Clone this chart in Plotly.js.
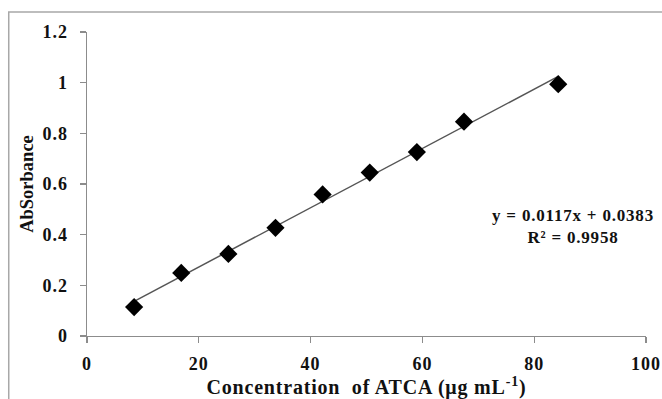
<!DOCTYPE html>
<html>
<head>
<meta charset="utf-8">
<script src="https://cdn.plot.ly/plotly-3.0.1.min.js"></script>
<style>
html,body{margin:0;padding:0;background:#fff;}
#chart{width:662px;height:399px;}
#chart .xtick text, #chart .ytick text{letter-spacing:1px;}
#chart .xtitle{letter-spacing:0.8px;}
#chart .annotation-text{letter-spacing:0.8px;}
</style>
</head>
<body>
<div id="chart"></div>
<script>
const concentration = [8.43, 16.86, 25.29, 33.72, 42.15, 50.58, 59.01, 67.44, 84.3];
const absorbance = [0.114, 0.249, 0.324, 0.427, 0.559, 0.645, 0.726, 0.846, 0.994];
const slope = 0.0117;
const intercept = 0.0383;
const equationText = "y = 0.0117x + 0.0383<br>R² = 0.9958";
const xTicks = [0, 20, 40, 60, 80, 100];
const yTicks = [0, 0.2, 0.4, 0.6, 0.8, 1, 1.2];

const fitX = [concentration[0], concentration[concentration.length - 1]];
const fitY = fitX.map(v => slope * v + intercept);

const font = "Liberation Serif, Times New Roman, serif";

const traces = [
  {
    x: fitX, y: fitY, type: "scatter", mode: "lines",
    line: {color: "#555555", width: 1.5}, hoverinfo: "skip", showlegend: false
  },
  {
    x: concentration, y: absorbance, type: "scatter", mode: "markers",
    marker: {symbol: "diamond", size: 14, color: "#000000"}, showlegend: false
  }
];

const layout = {
  width: 662, height: 399,
  margin: {l: 87, r: 16, t: 32, b: 63},
  paper_bgcolor: "#ffffff", plot_bgcolor: "#ffffff",
  font: {family: font, color: "#111111"},
  showlegend: false,
  xaxis: {
    range: [0, 100], tickvals: xTicks, ticktext: xTicks.map(v => "<b>" + v + "</b>"),
    showgrid: false, zeroline: false, showline: true, linecolor: "#8c8c8c", linewidth: 1.3,
    ticks: "outside", ticklen: 6, tickcolor: "#8c8c8c", tickwidth: 1.3,
    ticklabelstandoff: 5,
    tickfont: {family: font, size: 18, color: "#111111"},
    title: {text: "<b>Concentration  of ATCA (μg mL<sup>-1</sup>)</b>", font: {family: font, size: 20, color: "#111111"}, standoff: 2}
  },
  yaxis: {
    range: [0, 1.2], tickvals: yTicks, ticktext: yTicks.map(v => "<b>" + v + "</b>"),
    showgrid: false, zeroline: false, showline: true, linecolor: "#8c8c8c", linewidth: 1.3,
    ticks: "outside", ticklen: 6, tickcolor: "#8c8c8c", tickwidth: 1.3,
    ticklabelstandoff: 8,
    tickfont: {family: font, size: 18, color: "#111111"},
    title: {text: "<b>AbSorbance</b>", font: {family: font, size: 18.5, color: "#111111"}, standoff: 7}
  },
  annotations: [
    {
      xref: "paper", yref: "paper", x: 0.869, y: 0.36, xanchor: "center", yanchor: "middle",
      text: "<b>" + equationText + "</b>", showarrow: false, align: "center",
      font: {family: font, size: 17, color: "#111111"}
    }
  ],
  shapes: [
    {
      type: "rect", xref: "paper", yref: "paper",
      x0: -0.14, x1: 1.1, y0: -0.4, y1: 1.066,
      line: {color: "#a8a8a8", width: 1.5}, fillcolor: "rgba(0,0,0,0)", layer: "below"
    }
  ]
};

Plotly.newPlot("chart", traces, layout, {displayModeBar: false, staticPlot: true});
</script>
</body>
</html>
